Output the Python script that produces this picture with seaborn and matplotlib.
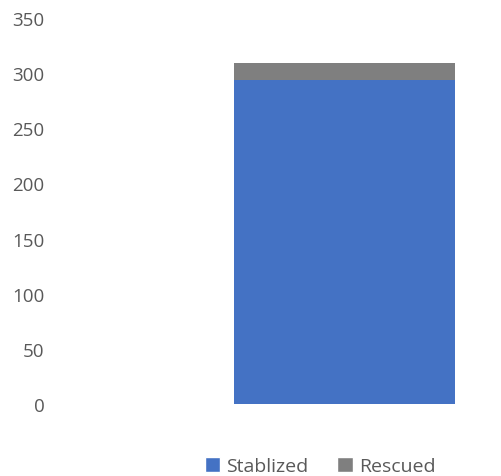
import matplotlib
matplotlib.use("Agg")
import matplotlib.pyplot as plt
import seaborn as sns
import pandas as pd
from matplotlib.patches import Patch

categories = [""]
stablized = [294]
rescued = [15]
y_ticks = [0, 50, 100, 150, 200, 250, 300, 350]

sns.set_theme(style="white")
plt.rcParams["font.family"] = ["Open Sans", "DejaVu Sans"]

blue = "#4472C4"
gray = "#7F7F7F"
text_color = "#595959"

totals = [s + r for s, r in zip(stablized, rescued)]
df = pd.DataFrame({"cat": categories, "Stablized": stablized, "Total": totals})

fig = plt.figure(figsize=(5.01, 4.77), dpi=100)
ax = fig.add_axes([60 / 501, (477 - 405) / 477, 430 / 501, (405 - 19) / 477])

sns.barplot(data=df, x="cat", y="Total", color=gray, width=0.8, saturation=1,
            linewidth=0, ax=ax)
sns.barplot(data=df, x="cat", y="Stablized", color=blue, width=0.8, saturation=1,
            linewidth=0, ax=ax)

ax.set_xlim(-1.03, 0.527)
ax.set_ylim(0, 350)
ax.set_yticks(y_ticks)
ax.set_yticklabels([str(t) for t in y_ticks], fontsize=13.5, color=text_color)
ax.tick_params(axis="y", length=0, pad=11)
ax.set_xticks([])
ax.set_xlabel("")
ax.set_ylabel("")
sns.despine(ax=ax, left=True, bottom=True)

handles = [Patch(facecolor=blue, label="Stablized"), Patch(facecolor=gray, label="Rescued")]
fig.legend(handles=handles, loc="center", bbox_to_anchor=(320 / 501, (477 - 467) / 477),
           ncol=2, frameon=False, fontsize=14, labelcolor=text_color,
           handlelength=0.8, handleheight=0.8, handletextpad=0.3, columnspacing=1.5)

fig.savefig("out.png", dpi=100)
